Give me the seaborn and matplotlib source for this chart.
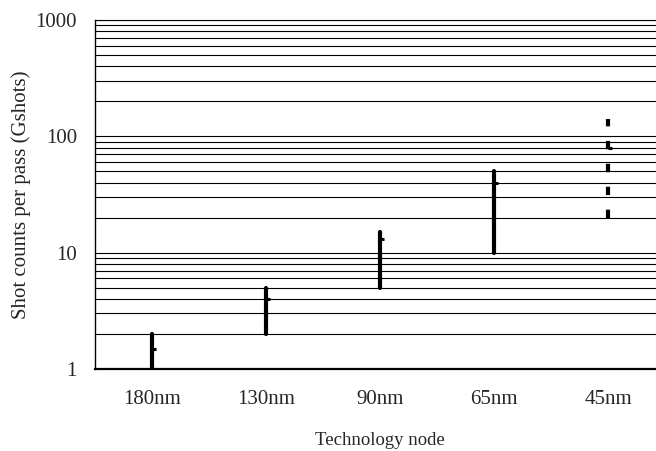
import pandas as pd
import matplotlib.pyplot as plt
import seaborn as sns

# shot count range per technology node (Gshots)
nodes = ["180nm", "130nm", "90nm", "65nm", "45nm"]
low = [1, 2, 5, 10, 20]
high = [2, 5, 15, 50, 140]
mid = [1.5, 4, 13, 40, 80]
line_kind = ["solid", "solid", "solid", "solid", "dashed"]

sns.set_style("white")
plt.rcParams["font.family"] = ["Liberation Serif", "DejaVu Serif"]

df = pd.DataFrame({
    "node": nodes * 2,
    "value": low + high,
    "kind": line_kind * 2,
})
df_mid = pd.DataFrame({"node": nodes, "value": mid})

fig = plt.figure(figsize=(6.56, 4.51), dpi=100)
# axes run past the right edge of the figure, like the cropped original
ax = fig.add_axes([95 / 656, 82 / 451, 570 / 656, 349 / 451])
ax.set_yscale("log")

sns.lineplot(data=df, x="node", y="value", units="node", estimator=None,
             style="kind", dashes={"solid": "", "dashed": (2, 3.5)},
             color="black", linewidth=3, legend=False, sort=False, ax=ax)
# small "close" tick to the right of each bar
ax.plot(df_mid["node"], df_mid["value"], ls="none", marker=[(0, 0), (1, 0)],
        ms=5.5, mew=2.2, color="black")

ax.set_xlim(-0.5, 4.5)
ax.set_ylim(1, 1000)
ax.set_yticks([1, 10, 100, 1000], labels=["1", "10", "100", "1000"])
ax.grid(True, which="both", axis="y", color="black", lw=0.8)
ax.set_axisbelow(True)

ax.set_xticks([0.5, 1.5, 2.5, 3.5], minor=True)
ax.tick_params(axis="x", which="major", length=0, pad=15, labelsize=15)
ax.tick_params(axis="x", which="minor", direction="in", length=6, width=1, color="black")
ax.tick_params(axis="y", which="both", direction="in", length=4, pad=13, labelsize=15, color="black")

for side in ["top", "left", "bottom", "right"]:
    ax.spines[side].set_color("black")
ax.spines["bottom"].set_linewidth(1.6)
ax.spines["left"].set_linewidth(1.0)
ax.spines["top"].set_linewidth(0.8)

ax.set_xlabel("Technology node", fontsize=13.5, labelpad=17)
ax.set_ylabel("Shot counts per pass (Gshots)", fontsize=15, labelpad=3.5)

fig.savefig("out.png", dpi=100)
